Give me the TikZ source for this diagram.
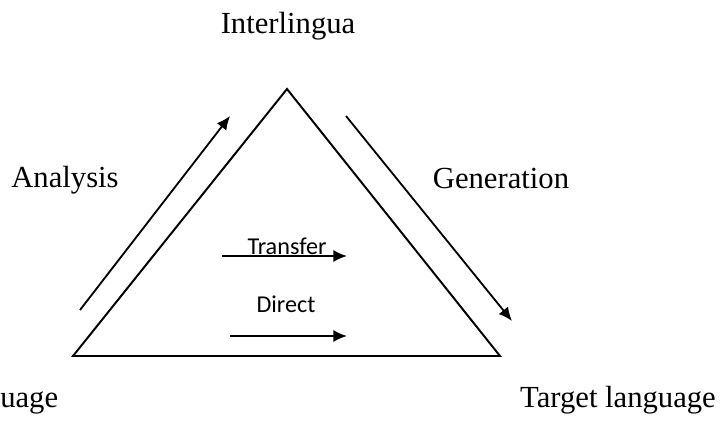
\documentclass[tikz,border=0pt]{standalone}
\usepackage{fontspec}
\setmainfont{Liberation Serif}
\newfontfamily\calibri{Carlito}
\usetikzlibrary{arrows.meta}

\begin{document}
\begin{tikzpicture}[x=0.025cm,y=-0.025cm]
\tikzstyle{level} = [font=\fontsize{21.8}{25}\selectfont, inner sep=0pt]
\tikzstyle{route} = [font=\calibri\fontsize{17.2}{20}\selectfont, inner sep=0pt]
\tikzstyle{edge} = [draw, line width=1.4pt, line join=miter]
\tikzstyle{connector} = [draw, line width=1.3pt, -{Latex[length=0.34cm,width=0.3cm]}]

\useasboundingbox (0,0) rectangle (722,422);
\clip (0,0) rectangle (722,422);

% triangle corners
\coordinate (apex) at (287,89);
\coordinate (src) at (73,356);
\coordinate (tgt) at (500,356);
\path [edge] (src) -- (apex) -- (tgt) -- cycle;

% labels
\node [level, anchor=base] at (288,33) (inter) {Interlingua};
\node [level, anchor=base] at (65,187) (ana) {Analysis};
\node [level, anchor=base] at (501,188) (gen) {Generation};
\node [level, anchor=base west] at (0,407) (srcl) {uage};
\node [level, anchor=base] at (618,407) (tgtl) {Target language};
\node [route, anchor=base] at (287,254) (trl) {Transfer};
\node [route, anchor=base] at (286,312) (dirl) {Direct};

% arrow ends
\coordinate (a1) at (80,310);
\coordinate (a2) at (230,116);
\coordinate (g1) at (346,116);
\coordinate (g2) at (512,321);
\coordinate (t1) at (222,256);
\coordinate (t2) at (347,256);
\coordinate (d1) at (230,336);
\coordinate (d2) at (347,336);

\path [connector] (a1) -- (a2);
\path [connector] (g1) -- (g2);
\path [connector] (t1) -- (t2);
\path [connector] (d1) -- (d2);

\end{tikzpicture}
\end{document}
